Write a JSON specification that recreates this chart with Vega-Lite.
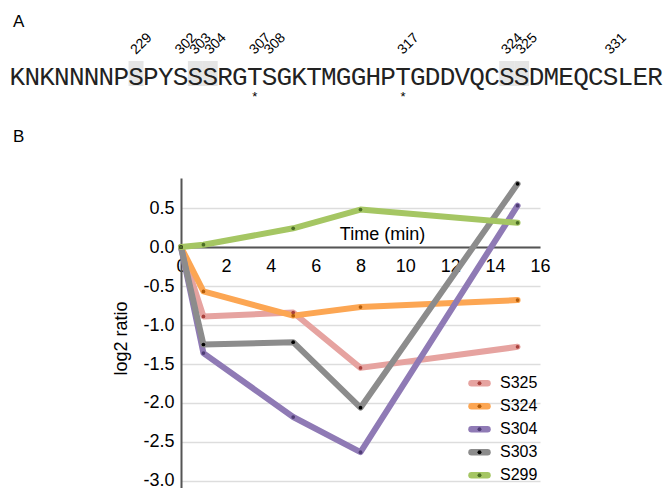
{
  "$schema": "https://vega.github.io/schema/vega-lite/v6.json",
  "width": 359,
  "height": 310,
  "autosize": {"type": "none"},
  "padding": {"left": 181, "top": 178, "right": 126, "bottom": 0},
  "background": "white",
  "config": {"view": {"stroke": null}, "font": "Liberation Sans"},
  "layer": [
    {
      "data": {"values": [
        {"series": "S325", "time": 0, "log2": 0},
        {"series": "S325", "time": 1, "log2": -0.89},
        {"series": "S325", "time": 5, "log2": -0.84},
        {"series": "S325", "time": 8, "log2": -1.55},
        {"series": "S325", "time": 15, "log2": -1.28},
        {"series": "S324", "time": 0, "log2": 0},
        {"series": "S324", "time": 1, "log2": -0.57},
        {"series": "S324", "time": 5, "log2": -0.88},
        {"series": "S324", "time": 8, "log2": -0.77},
        {"series": "S324", "time": 15, "log2": -0.68},
        {"series": "S304", "time": 0, "log2": 0},
        {"series": "S304", "time": 1, "log2": -1.36},
        {"series": "S304", "time": 5, "log2": -2.18},
        {"series": "S304", "time": 8, "log2": -2.63},
        {"series": "S304", "time": 15, "log2": 0.53},
        {"series": "S303", "time": 0, "log2": 0},
        {"series": "S303", "time": 1, "log2": -1.25},
        {"series": "S303", "time": 5, "log2": -1.22},
        {"series": "S303", "time": 8, "log2": -2.06},
        {"series": "S303", "time": 15, "log2": 0.81},
        {"series": "S299", "time": 0, "log2": 0},
        {"series": "S299", "time": 1, "log2": 0.03},
        {"series": "S299", "time": 5, "log2": 0.24},
        {"series": "S299", "time": 8, "log2": 0.48},
        {"series": "S299", "time": 15, "log2": 0.31}
      ]},
      "layer": [
        {
          "mark": {"type": "line", "strokeWidth": 6, "strokeCap": "round", "strokeJoin": "round"},
          "encoding": {
            "x": {"field": "time", "type": "quantitative",
              "scale": {"domain": [0, 16], "nice": false, "zero": false},
              "axis": {"orient": "bottom", "offset": -241, "values": [0, 2, 4, 6, 8, 10, 12, 14, 16],
                "ticks": false, "grid": false, "domainColor": "#555555", "domainWidth": 2,
                "labelFontSize": 18, "labelColor": "#000000", "labelPadding": 10, "labelFlush": false, "labelOverlap": false,
                "title": "Time (min)", "titleFontSize": 18, "titleFontWeight": "normal", "titleColor": "#000000",
                "titleX": 201, "titleY": -8, "titleBaseline": "alphabetic", "titleAlign": "center"}},
            "y": {"field": "log2", "type": "quantitative",
              "scale": {"domain": [-3.09, 0.885], "nice": false, "zero": false},
              "axis": {"values": [-3, -2.5, -2, -1.5, -1, -0.5, 0, 0.5], "ticks": false,
                "grid": true, "gridColor": "#dddddd", "gridWidth": 1.5,
                "domainColor": "#555555", "domainWidth": 2,
                "labelFontSize": 18, "labelColor": "#000000", "labelPadding": 7, "labelFlush": false, "labelOverlap": false,
                "labelExpr": "replace(format(datum.value, '.1f'), '\u2212', '-')",
                "title": "log2 ratio", "titleFontSize": 18, "titleFontWeight": "normal", "titleColor": "#000000",
                "titleX": -55, "titleY": 160, "titleAngle": -90, "titleBaseline": "alphabetic", "titleAlign": "center"}},
            "stroke": {"field": "series", "type": "nominal",
              "scale": {"domain": ["S325", "S324", "S304", "S303", "S299"],
                        "range": ["#e6a3a0", "#fca653", "#8f7ab5", "#8c8c8c", "#a5c663"]},
              "legend": {"orient": "none", "legendX": 287, "legendY": 194, "title": null,
                "symbolType": "stroke", "symbolSize": 256, "symbolStrokeWidth": 6.5,
                "labelFontSize": 16, "labelColor": "#000000", "labelOffset": 9, "rowPadding": 0, "padding": 0,
                "clipHeight": 22.5, "zindex": 0,
                "encode": {"symbols": {"update": {"strokeCap": {"value": "round"}}}}}}
          }
        },
        {
          "mark": {"type": "circle", "size": 14, "opacity": 1},
          "encoding": {
            "x": {"field": "time", "type": "quantitative"},
            "y": {"field": "log2", "type": "quantitative"},
            "fill": {"field": "series", "type": "nominal",
              "scale": {"domain": ["S299", "S303", "S304", "S324", "S325"],
                        "range": ["#4b6e25", "#000000", "#4f3d75", "#b35c0a", "#a8403c"]},
              "legend": {"orient": "none", "legendX": 287, "legendY": 194, "title": null,
                "values": ["S325", "S324", "S304", "S303", "S299"],
                "symbolType": "M0.25,0L0.177,0.177L0,0.25L-0.177,0.177L-0.25,0L-0.177,-0.177L0,-0.25L0.177,-0.177Z",
                "symbolSize": 256, "symbolStrokeWidth": 6.5, "symbolStrokeColor": "transparent",
                "labelFontSize": 16, "labelOpacity": 0, "labelOffset": 9, "rowPadding": 0, "padding": 0,
                "clipHeight": 22.5, "zindex": 1}}
          }
        }
      ]
    },
    {
      "layer": [
        {
          "data": {"values": [{"pos": 8}, {"pos": 12}, {"pos": 13}, {"pos": 33}, {"pos": 34}]},
          "mark": {"type": "bar", "width": 15, "color": "#e5e5e5"},
          "encoding": {
            "x": {"field": "pos", "type": "quantitative", "scale": {"domain": [11.032, 35.24], "nice": false, "zero": false, "padding": 0}, "axis": null},
            "y": {"datum": -0.05, "type": "quantitative", "scale": {"domain": [-20.15, -4.65], "nice": false, "zero": false, "padding": 0}, "axis": null},
            "y2": {"datum": 1.2}
          }
        },
        {
          "data": {"values": [
            {"pos": 0, "res": "K"}, {"pos": 1, "res": "N"}, {"pos": 2, "res": "K"}, {"pos": 3, "res": "N"},
            {"pos": 4, "res": "N"}, {"pos": 5, "res": "N"}, {"pos": 6, "res": "N"}, {"pos": 7, "res": "P"},
            {"pos": 8, "res": "S"}, {"pos": 9, "res": "P"}, {"pos": 10, "res": "Y"}, {"pos": 11, "res": "S"},
            {"pos": 12, "res": "S"}, {"pos": 13, "res": "S"}, {"pos": 14, "res": "R"}, {"pos": 15, "res": "G"},
            {"pos": 16, "res": "T"}, {"pos": 17, "res": "S"}, {"pos": 18, "res": "G"}, {"pos": 19, "res": "K"},
            {"pos": 20, "res": "T"}, {"pos": 21, "res": "M"}, {"pos": 22, "res": "G"}, {"pos": 23, "res": "G"},
            {"pos": 24, "res": "H"}, {"pos": 25, "res": "P"}, {"pos": 26, "res": "T"}, {"pos": 27, "res": "G"},
            {"pos": 28, "res": "D"}, {"pos": 29, "res": "D"}, {"pos": 30, "res": "V"}, {"pos": 31, "res": "Q"},
            {"pos": 32, "res": "C"}, {"pos": 33, "res": "S"}, {"pos": 34, "res": "S"}, {"pos": 35, "res": "D"},
            {"pos": 36, "res": "M"}, {"pos": 37, "res": "E"}, {"pos": 38, "res": "Q"}, {"pos": 39, "res": "C"},
            {"pos": 40, "res": "S"}, {"pos": 41, "res": "L"}, {"pos": 42, "res": "E"}, {"pos": 43, "res": "R"}
          ]},
          "mark": {"type": "text", "font": "Liberation Mono", "fontSize": 26, "align": "center", "baseline": "alphabetic", "color": "#222222"},
          "encoding": {
            "x": {"field": "pos", "type": "quantitative", "scale": {"domain": [11.032, 35.24], "nice": false, "zero": false, "padding": 0}, "axis": null},
            "y": {"datum": 0, "type": "quantitative", "scale": {"domain": [-20.15, -4.65], "nice": false, "zero": false, "padding": 0}, "axis": null},
            "text": {"field": "res"}
          }
        },
        {
          "data": {"values": [
            {"pos": 8, "site": "229"}, {"pos": 11, "site": "302"}, {"pos": 12, "site": "303"}, {"pos": 13, "site": "304"},
            {"pos": 16, "site": "307"}, {"pos": 17, "site": "308"}, {"pos": 26, "site": "317"},
            {"pos": 33, "site": "324"}, {"pos": 34, "site": "325"}, {"pos": 40, "site": "331"}
          ]},
          "mark": {"type": "text", "fontSize": 14, "angle": -45, "align": "left", "baseline": "alphabetic", "color": "#000000"},
          "encoding": {
            "x": {"field": "pos", "type": "quantitative", "scale": {"domain": [11.032, 35.24], "nice": false, "zero": false, "padding": 0}, "axis": null},
            "y": {"datum": 1.5, "type": "quantitative", "scale": {"domain": [-20.15, -4.65], "nice": false, "zero": false, "padding": 0}, "axis": null},
            "text": {"field": "site"}
          }
        },
        {
          "data": {"values": [{"pos": 16, "mark": "*"}, {"pos": 26, "mark": "*"}]},
          "mark": {"type": "text", "fontSize": 13, "align": "center", "baseline": "alphabetic", "color": "#000000"},
          "encoding": {
            "x": {"field": "pos", "type": "quantitative", "scale": {"domain": [11.032, 35.24], "nice": false, "zero": false, "padding": 0}, "axis": null},
            "y": {"datum": -0.8, "type": "quantitative", "scale": {"domain": [-20.15, -4.65], "nice": false, "zero": false, "padding": 0}, "axis": null},
            "text": {"field": "mark"}
          }
        },
        {
          "data": {"values": [{"label": "A"}]},
          "mark": {"type": "text", "fontSize": 17, "align": "left", "baseline": "alphabetic", "color": "#000000"},
          "encoding": {
            "x": {"datum": -0.3, "type": "quantitative", "scale": {"domain": [11.032, 35.24], "nice": false, "zero": false, "padding": 0}, "axis": null},
            "y": {"datum": 2.9, "type": "quantitative", "scale": {"domain": [-20.15, -4.65], "nice": false, "zero": false, "padding": 0}, "axis": null},
            "text": {"field": "label"}
          }
        },
        {
          "data": {"values": [{"label": "B"}]},
          "mark": {"type": "text", "fontSize": 17, "align": "left", "baseline": "alphabetic", "color": "#000000"},
          "encoding": {
            "x": {"datum": -0.3, "type": "quantitative", "scale": {"domain": [11.032, 35.24], "nice": false, "zero": false, "padding": 0}, "axis": null},
            "y": {"datum": -2.85, "type": "quantitative", "scale": {"domain": [-20.15, -4.65], "nice": false, "zero": false, "padding": 0}, "axis": null},
            "text": {"field": "label"}
          }
        }
      ]
    }
  ],
  "resolve": {"scale": {"x": "independent", "y": "independent"}}
}
